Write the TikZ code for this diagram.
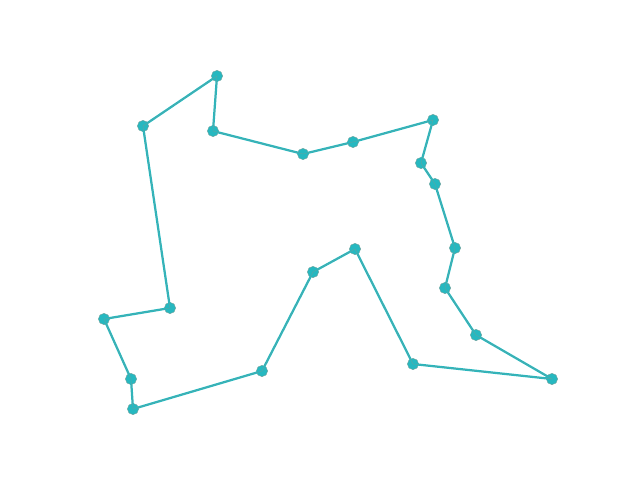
\documentclass[tikz,border=0pt]{standalone}
\usepackage{tikz}
\definecolor{tourcyan}{RGB}{38,184,192}
\definecolor{tourgray}{RGB}{110,160,155}
\tikzset{
  city/.style={circle, fill=tourcyan, draw=tourgray, line width=0.3pt, inner sep=0pt, minimum size=8pt},
  tour/.style={draw=tourcyan, line width=1.6pt, line join=round},
  tourline/.style={draw=tourgray, line width=0.35pt, opacity=0.7}
}
\begin{document}
\begin{tikzpicture}[x=0.025cm, y=-0.025cm]
    \useasboundingbox (0,0) rectangle (640,480);

    \node[city] (c1) at (217, 76) {};
    \node[city] (c2) at (143, 126) {};
    \node[city] (c3) at (170, 308) {};
    \node[city] (c4) at (104, 319) {};
    \node[city] (c5) at (131, 379) {};
    \node[city] (c6) at (133, 409) {};
    \node[city] (c7) at (262, 371) {};
    \node[city] (c8) at (313, 272) {};
    \node[city] (c9) at (355, 249) {};
    \node[city] (c10) at (413, 364) {};
    \node[city] (c11) at (552, 379) {};
    \node[city] (c12) at (476, 335) {};
    \node[city] (c13) at (445, 288) {};
    \node[city] (c14) at (455, 248) {};
    \node[city] (c15) at (435, 184) {};
    \node[city] (c16) at (421, 163) {};
    \node[city] (c17) at (433, 120) {};
    \node[city] (c18) at (353, 142) {};
    \node[city] (c19) at (303, 154) {};
    \node[city] (c20) at (213, 131) {};

    \draw[tour] (c1.center) -- (c2.center) -- (c3.center) -- (c4.center) -- (c5.center)
        -- (c6.center) -- (c7.center) -- (c8.center) -- (c9.center) -- (c10.center)
        -- (c11.center) -- (c12.center) -- (c13.center) -- (c14.center) -- (c15.center)
        -- (c16.center) -- (c17.center) -- (c18.center) -- (c19.center) -- (c20.center)
        -- cycle;
    \draw[tourline] (c1.center) -- (c2.center) -- (c3.center) -- (c4.center) -- (c5.center)
        -- (c6.center) -- (c7.center) -- (c8.center) -- (c9.center) -- (c10.center)
        -- (c11.center) -- (c12.center) -- (c13.center) -- (c14.center) -- (c15.center)
        -- (c16.center) -- (c17.center) -- (c18.center) -- (c19.center) -- (c20.center)
        -- cycle;
\end{tikzpicture}
\end{document}
